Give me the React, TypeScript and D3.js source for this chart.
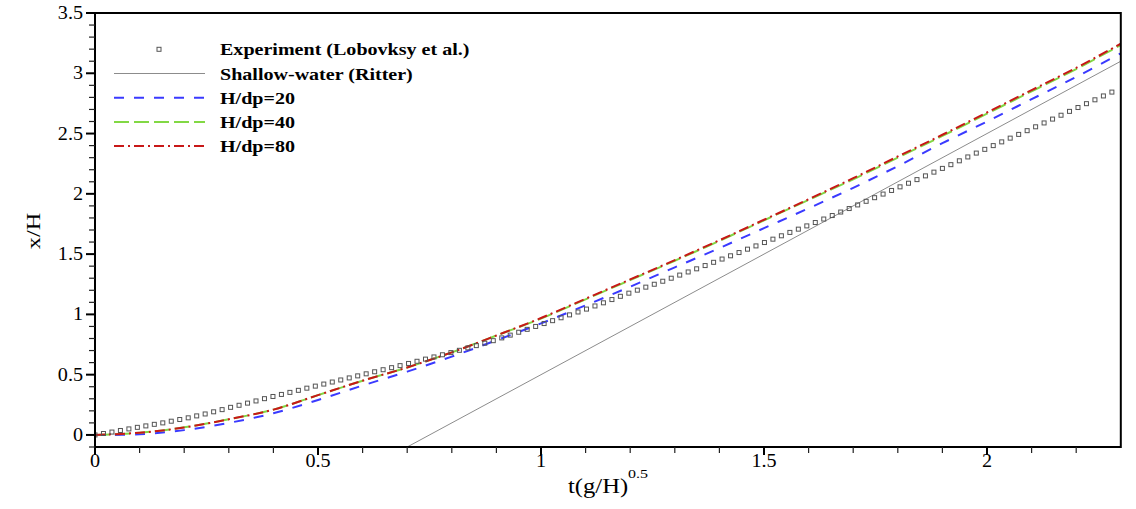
import React from "react";
import * as d3 from "d3";

// simulation times (t(g/H)^0.5)
const tSim = [0, 0.1, 0.2, 0.3, 0.4, 0.5, 0.6, 0.7, 0.8, 0.9, 1.0, 1.1, 1.2, 1.3, 1.4, 1.5, 1.6, 1.7, 1.8, 1.9, 2.0, 2.1, 2.2, 2.3];
const dp20 = [0, 0.005, 0.04, 0.1, 0.18, 0.29, 0.41, 0.525, 0.65, 0.785, 0.925, 1.075, 1.23, 1.39, 1.55, 1.715, 1.88, 2.05, 2.23, 2.42, 2.6, 2.785, 2.97, 3.165];
const dp40 = [0, 0.018, 0.063, 0.13, 0.21, 0.33, 0.45, 0.56, 0.685, 0.825, 0.965, 1.125, 1.285, 1.445, 1.61, 1.78, 1.95, 2.12, 2.3, 2.48, 2.665, 2.85, 3.035, 3.235];
const dp80 = [0, 0.018, 0.062, 0.13, 0.21, 0.33, 0.45, 0.56, 0.685, 0.825, 0.97, 1.13, 1.29, 1.45, 1.615, 1.785, 1.955, 2.13, 2.31, 2.49, 2.675, 2.86, 3.045, 3.245];

// shallow-water (Ritter) line end points
const ritterT = [0.7, 2.3];
const ritterX = [-0.1, 3.1];

// experiment (Lobovsky et al.)
const expT = [
  0, 0.019, 0.038, 0.057, 0.076, 0.095, 0.114, 0.133, 0.152, 0.171, 0.19, 0.209, 0.228, 0.247, 0.266, 0.285,
  0.304, 0.323, 0.342, 0.361, 0.38, 0.399, 0.418, 0.437, 0.456, 0.475, 0.494, 0.513, 0.532, 0.551, 0.57, 0.589,
  0.608, 0.627, 0.646, 0.665, 0.684, 0.703, 0.722, 0.741, 0.76, 0.779, 0.798, 0.817, 0.836, 0.855, 0.874, 0.893,
  0.912, 0.931, 0.95, 0.969, 0.988, 1.007, 1.026, 1.045, 1.064, 1.083, 1.102, 1.121, 1.14, 1.159, 1.178, 1.197,
  1.216, 1.235, 1.254, 1.273, 1.292, 1.311, 1.33, 1.349, 1.368, 1.387, 1.406, 1.425, 1.444, 1.463, 1.482, 1.501,
  1.52, 1.539, 1.558, 1.577, 1.596, 1.615, 1.634, 1.653, 1.672, 1.691, 1.71, 1.729, 1.748, 1.767, 1.786, 1.805,
  1.824, 1.843, 1.862, 1.881, 1.9, 1.919, 1.938, 1.957, 1.976, 1.995, 2.014, 2.033, 2.052, 2.071, 2.09, 2.109,
  2.128, 2.147, 2.166, 2.185, 2.204, 2.223, 2.242, 2.261, 2.28,
];
const expX = [
  0, 0.012, 0.024, 0.037, 0.05, 0.063, 0.075, 0.088, 0.1, 0.114, 0.128, 0.142, 0.158, 0.174, 0.192, 0.21,
  0.229, 0.246, 0.264, 0.282, 0.301, 0.319, 0.336, 0.353, 0.37, 0.388, 0.405, 0.422, 0.439, 0.456, 0.473, 0.49,
  0.507, 0.524, 0.541, 0.558, 0.575, 0.593, 0.611, 0.629, 0.647, 0.665, 0.683, 0.702, 0.722, 0.741, 0.761, 0.782,
  0.805, 0.828, 0.852, 0.876, 0.9, 0.924, 0.948, 0.972, 0.996, 1.02, 1.044, 1.07, 1.096, 1.123, 1.15, 1.176,
  1.201, 1.226, 1.25, 1.275, 1.3, 1.326, 1.352, 1.378, 1.405, 1.432, 1.459, 1.486, 1.513, 1.541, 1.568, 1.596,
  1.624, 1.652, 1.68, 1.707, 1.734, 1.762, 1.791, 1.82, 1.849, 1.878, 1.908, 1.938, 1.968, 1.998, 2.028, 2.058,
  2.088, 2.118, 2.149, 2.18, 2.211, 2.242, 2.274, 2.306, 2.338, 2.369, 2.4, 2.431, 2.462, 2.493, 2.524, 2.556,
  2.588, 2.62, 2.652, 2.684, 2.716, 2.748, 2.78, 2.812, 2.844,
];

const xTicksMajor = [0, 0.5, 1, 1.5, 2];
const yTicksMajor = [0, 0.5, 1, 1.5, 2, 2.5, 3, 3.5];
const xTickLabels = ["0", "0.5", "1", "1.5", "2"];
const yTickLabels = ["0", "0.5", "1", "1.5", "2", "2.5", "3", "3.5"];

const legendItems = [
  { label: "Experiment (Lobovksy et al.)", kind: "marker" },
  { label: "Shallow-water (Ritter)", color: "#8c8c8c", width: 1, dash: "" },
  { label: "H/dp=20", color: "#3a3aff", width: 2, dash: "10,10" },
  { label: "H/dp=40", color: "#82d844", width: 2, dash: "15,5" },
  { label: "H/dp=80", color: "#c81818", width: 2, dash: "10,4,2,4" },
];

const W = 1136;
const H = 509;
const serif = '"Liberation Serif", "Times New Roman", Times, serif';

const Txt: React.FC<{ x: number; y: number; sx: number; size: number; anchor?: string; bold?: boolean; rotate?: number; children: React.ReactNode }> = ({ x, y, sx, size, anchor = "start", bold, rotate = 0, children }) => (
  <text
    transform={`translate(${x},${y}) rotate(${rotate}) scale(${sx},1)`}
    style={{ fontFamily: serif, fontSize: size, fontWeight: bold ? 700 : 400 }}
    textAnchor={anchor}
    fill="#000"
  >
    {children}
  </text>
);

const App: React.FC = () => {
  const x = d3.scaleLinear().domain([0, 2.3]).range([95, 1120.8]);
  const y = d3.scaleLinear().domain([-0.1, 3.5]).range([447, 13]);

  const line = d3
    .line<number>()
    .x((_, i) => x(tSim[i]))
    .curve(d3.curveCatmullRom);

  const series = [
    { vals: dp20, item: legendItems[2] },
    { vals: dp40, item: legendItems[3] },
    { vals: dp80, item: legendItems[4] },
  ];

  const xMinor = d3.range(0, 23).map((i) => i / 10).filter((v) => Math.abs(v * 2 - Math.round(v * 2)) > 1e-6);
  const yMinor = d3.range(-1, 36).map((i) => i / 10).filter((v) => Math.abs(v * 2 - Math.round(v * 2)) > 1e-6);

  const [x0, x1] = x.range();
  const [yb, yt] = y.range();

  return (
    <svg width={W} height={H} style={{ position: "absolute", left: 0, top: 0, background: "#fff" }}>
      <defs>
        <clipPath id="plot">
          <rect x={x0} y={yt} width={x1 - x0} height={yb - yt} />
        </clipPath>
      </defs>

      <g clipPath="url(#plot)">
        <line
          x1={x(ritterT[0])}
          y1={y(ritterX[0])}
          x2={x(ritterT[1])}
          y2={y(ritterX[1])}
          stroke="#8c8c8c"
          strokeWidth={1}
        />
        {series.map((s, i) => (
          <path
            key={i}
            d={line.y((d) => y(d))(s.vals) || ""}
            fill="none"
            stroke={s.item.color}
            strokeWidth={s.item.width}
            strokeDasharray={s.item.dash}
          />
        ))}
        {expT.map((t, i) => (
          <rect key={i} x={x(t) - 2} y={y(expX[i]) - 2} width={4} height={4} fill="none" stroke="#555" strokeWidth={1} />
        ))}
      </g>

      {/* frame */}
      <rect x={x0} y={yt} width={x1 - x0} height={yb - yt} fill="none" stroke="#000" strokeWidth={2} />

      {/* x ticks */}
      {xMinor.map((v) => (
        <line key={"xm" + v} x1={x(v)} x2={x(v)} y1={yb} y2={yb + 6} stroke="#222" strokeWidth={1.2} />
      ))}
      {xTicksMajor.map((v, i) => (
        <g key={"xM" + v}>
          <line x1={x(v)} x2={x(v)} y1={yb} y2={yb + 8} stroke="#000" strokeWidth={2} />
          <Txt x={x(v)} y={467} sx={1.12} size={18} anchor="middle">
            {xTickLabels[i]}
          </Txt>
        </g>
      ))}

      {/* y ticks */}
      {yMinor.map((v) => (
        <line key={"ym" + v} x1={x0 - 6} x2={x0} y1={y(v)} y2={y(v)} stroke="#222" strokeWidth={1.2} />
      ))}
      {yTicksMajor.map((v, i) => (
        <g key={"yM" + v}>
          <line x1={x0 - 9} x2={x0} y1={y(v)} y2={y(v)} stroke="#000" strokeWidth={2} />
          <Txt x={83} y={y(v) + 6} sx={1.12} size={18} anchor="end">
            {yTickLabels[i]}
          </Txt>
        </g>
      ))}

      {/* axis titles */}
      <Txt x={39.5} y={231} sx={1.28} size={19} anchor="middle" rotate={-90}>
        x/H
      </Txt>
      <Txt x={568} y={493} sx={1.23} size={20}>
        t(g/H)
        <tspan style={{ fontSize: 13 }} dy={-15}>
          0.5
        </tspan>
      </Txt>

      {/* legend */}
      {legendItems.map((it, i) => {
        const ly = 49.3 + i * 24.2;
        return (
          <g key={it.label}>
            {it.kind === "marker" ? (
              <rect x={157} y={ly - 2} width={4} height={4} fill="none" stroke="#555" strokeWidth={1} />
            ) : (
              <line x1={114} x2={205} y1={ly} y2={ly} stroke={it.color} strokeWidth={it.width} strokeDasharray={it.dash} />
            )}
            <Txt x={220} y={ly + 6} sx={1.18} size={17} bold>
              {it.label}
            </Txt>
          </g>
        );
      })}
    </svg>
  );
};

export default App;
